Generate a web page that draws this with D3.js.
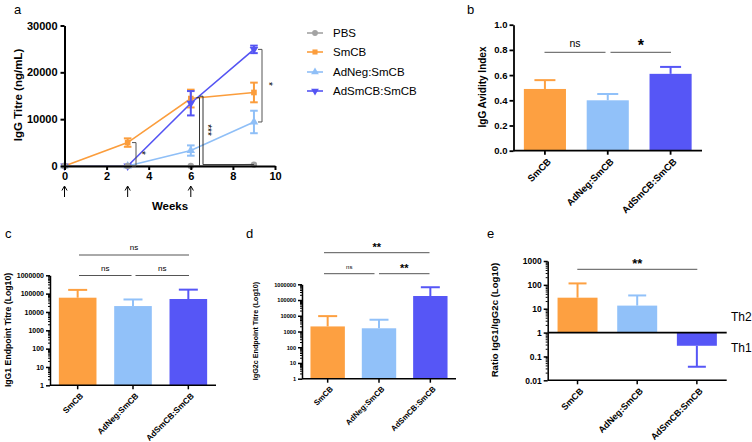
<!DOCTYPE html>
<html><head><meta charset="utf-8">
<script src="https://cdn.jsdelivr.net/npm/d3@7/dist/d3.min.js"></script>
<style>body{margin:0;background:#fff} svg text{font-family:"Liberation Sans",Arial,Helvetica,sans-serif}</style>
</head><body><svg id="chart" width="752" height="442"></svg>
<script>
// ---------- DATA ----------
const weeks = [0, 3, 6, 9];
const boostWeeks = [0, 3, 6];
const seriesNames = ["PBS", "SmCB", "AdNeg:SmCB", "AdSmCB:SmCB"];
const pbsMean = [0, 0, 0, 300];
const pbsErr = [0, 0, 0, 0];
const smcbMean = [0, 5000, 14400, 15700];
const smcbErr = [0, 900, 1900, 2100];
const adnegMean = [0, 0, 3300, 9400];
const adnegErr = [0, 0, 1100, 2400];
const adsmcbMean = [0, 0, 13400, 24900];
const adsmcbErr = [0, 0, 2600, 800];
const aYTicks = [0, 10000, 20000, 30000];
const aXTicks = [0, 2, 4, 6, 8, 10];

const groups = ["SmCB", "AdNeg:SmCB", "AdSmCB:SmCB"];
const avidity = [0.49, 0.40, 0.61];
const avidityUpper = [0.56, 0.45, 0.665];
const bYTicks = [0, 0.2, 0.4, 0.6, 0.8, 1.0];

const igg1 = [60000, 21000, 51000];
const igg1Upper = [160000, 48000, 165000];
const igg2c = [2100, 1600, 180000];
const igg2cUpper = [9500, 5600, 650000];
const logTicks6 = [1, 10, 100, 1000, 10000, 100000, 1000000];

const ratio = [29, 13.5, 0.28];
const ratioErrEnd = [115, 36, 0.037];
const eTicks = [0.01, 0.1, 1, 10, 100, 1000];

// ---------- STYLE ----------
const colors = {"PBS": "#a3a3a3", "SmCB": "#fb9d3c", "AdNeg:SmCB": "#8fbff7", "AdSmCB:SmCB": "#5454f3"};
const barColors = ["#fda041", "#91c1f9", "#5656f6"];
const svg = d3.select("#chart");

function styleAxis(g, sw, fs) {
  g.selectAll("path.domain").attr("stroke", "#000").attr("stroke-width", sw);
  g.selectAll(".tick line").attr("stroke", "#000").attr("stroke-width", sw);
  g.selectAll(".tick text").attr("font-size", fs).attr("font-weight", "bold").attr("fill", "#000")
    .attr("font-family", '"Liberation Sans",Arial,sans-serif');
}
function label(x, y, txt, fs, opts = {}) {
  const t = svg.append("text").attr("x", x).attr("y", y).text(txt)
    .attr("font-size", fs).attr("fill", opts.fill || "#000")
    .attr("font-weight", opts.bold ? "bold" : "normal")
    .attr("text-anchor", opts.anchor || "start")
    .attr("dominant-baseline", opts.baseline || "auto");
  if (opts.rotate) t.attr("transform", `rotate(${opts.rotate},${x},${y})`);
  return t;
}
function sig(x1, x2, y, txt, fs, bold, ty) {
  svg.append("line").attr("x1", x1).attr("x2", x2).attr("y1", y).attr("y2", y)
    .attr("stroke", "#555").attr("stroke-width", 1);
  label((x1 + x2) / 2, ty, txt, fs, {bold: bold, anchor: "middle"});
}
function minorLog(g, scale, x, lo, hi, len) {
  for (let d = lo; d < hi; d *= 10) {
    for (let k = 2; k < 10; k++) {
      const y = scale(d * k);
      g.append("line").attr("x1", x - len).attr("x2", x).attr("y1", y).attr("y2", y)
        .attr("stroke", "#000").attr("stroke-width", 1);
    }
  }
}
function rotLabels(xs, y0, fs) {
  groups.forEach((gname, i) => {
    svg.append("text").text(gname)
      .attr("transform", `translate(${xs(gname) + xs.bandwidth() / 2 + 2},${y0}) rotate(-45)`)
      .attr("text-anchor", "end").attr("dy", "0.7em")
      .attr("font-size", fs).attr("font-weight", "bold").attr("fill", "#000");
  });
}
function barPanel(cfg) {
  const xs = d3.scaleBand().domain(groups).range(cfg.xr).paddingInner(cfg.pad).paddingOuter(cfg.pad / 2);
  const ys = cfg.ys;
  const g = svg.append("g");
  const base = cfg.base;
  groups.forEach((gname, i) => {
    const v = cfg.vals[i], u = cfg.upper[i];
    const x0 = xs(gname), cx = x0 + xs.bandwidth() / 2;
    g.append("line").attr("x1", cx).attr("x2", cx).attr("y1", ys(v)).attr("y2", ys(u))
      .attr("stroke", barColors[i]).attr("stroke-width", 2);
    g.append("line").attr("x1", cx - cfg.cap / 2).attr("x2", cx + cfg.cap / 2).attr("y1", ys(u)).attr("y2", ys(u))
      .attr("stroke", barColors[i]).attr("stroke-width", 2);
    g.append("rect").attr("x", x0).attr("width", xs.bandwidth())
      .attr("y", Math.min(ys(v), ys(base))).attr("height", Math.abs(ys(base) - ys(v)))
      .attr("fill", barColors[i]);
  });
  const ya = svg.append("g").attr("transform", `translate(${cfg.xr[0]},0)`)
    .call(d3.axisLeft(ys).tickValues(cfg.yTicks).tickSize(4).tickSizeOuter(0).tickPadding(2).tickFormat(cfg.fmt));
  styleAxis(ya, cfg.sw, cfg.tfs);
  if (cfg.minor) minorLog(svg.append("g"), ys, cfg.xr[0], cfg.minor[0], cfg.minor[1], 2);
  const xa = svg.append("g").attr("transform", `translate(0,${cfg.xAxisY})`)
    .call(d3.axisBottom(xs).tickSize(4).tickSizeOuter(0).tickFormat(""));
  styleAxis(xa, cfg.sw, cfg.tfs);
  xa.select("path.domain").attr("d", `M${cfg.xr[0]},0H${cfg.xr[1]}`);
  rotLabels(xs, cfg.xAxisY + 7, cfg.lfs);
  return xs;
}

// ---------- PANEL A ----------
const ax = d3.scaleLinear().domain([0, 10]).range([64.5, 275]);
const ay = d3.scaleLinear().domain([0, 30000]).range([166, 25.5]);
const series = [
  {name: "SmCB", mean: smcbMean, err: smcbErr, sym: d3.symbolSquare, rot: 0},
  {name: "AdNeg:SmCB", mean: adnegMean, err: adnegErr, sym: d3.symbolTriangle, rot: 0},
  {name: "AdSmCB:SmCB", mean: adsmcbMean, err: adsmcbErr, sym: d3.symbolTriangle, rot: 180},
  {name: "PBS", mean: pbsMean, err: pbsErr, sym: d3.symbolCircle, rot: 0}
];
const gA = svg.append("g");
const line = d3.line().x(d => ax(d[0])).y(d => ay(d[1]));
series.forEach(s => {
  const c = colors[s.name];
  const pts = weeks.map((w, i) => [w, s.mean[i]]);
  gA.append("path").attr("d", line(pts)).attr("fill", "none").attr("stroke", c).attr("stroke-width", 1.6);
  weeks.forEach((w, i) => {
    if (s.err[i] > 0) {
      const x = ax(w), y1 = ay(s.mean[i] - s.err[i]), y2 = ay(s.mean[i] + s.err[i]);
      gA.append("line").attr("x1", x).attr("x2", x).attr("y1", y1).attr("y2", y2).attr("stroke", c).attr("stroke-width", 2);
      [y1, y2].forEach(yy => gA.append("line").attr("x1", x - 3.8).attr("x2", x + 3.8).attr("y1", yy).attr("y2", yy).attr("stroke", c).attr("stroke-width", 2));
    }
    gA.append("path").attr("d", d3.symbol().type(s.sym).size(32)())
      .attr("transform", `translate(${ax(w)},${ay(s.mean[i])}) rotate(${s.rot})`).attr("fill", c);
  });
});
const aYA = svg.append("g").attr("transform", "translate(64.5,0)")
  .call(d3.axisLeft(ay).tickValues(aYTicks).tickSize(4).tickSizeOuter(0).tickPadding(3).tickFormat(d3.format("d")));
styleAxis(aYA, 2, 11);
const aXA = svg.append("g").attr("transform", "translate(0,166)")
  .call(d3.axisBottom(ax).tickValues(aXTicks).tickSize(4).tickSizeOuter(0).tickPadding(2).tickFormat(d3.format("d")));
styleAxis(aXA, 2, 11);
// boost arrows (drawn as paths)
boostWeeks.forEach(w => {
  const x = ax(w);
  svg.append("line").attr("x1", x).attr("x2", x).attr("y1", 187).attr("y2", 197).attr("stroke", "#000").attr("stroke-width", 1);
  svg.append("path").attr("d", `M${x - 2.6},${190.5}L${x},${186}L${x + 2.6},${190.5}`).attr("fill", "none").attr("stroke", "#000").attr("stroke-width", 1);
});
label(170, 210, "Weeks", 11.5, {bold: true, anchor: "middle"});
label(22, 95, "IgG Titre (ng/mL)", 11.5, {bold: true, anchor: "middle", rotate: -90});
label(14, 14, "a", 13);
function bracket(x, y1, y2, tick) {
  svg.append("path").attr("d", `M${x - tick},${y1}H${x}V${y2}H${x - tick}`)
    .attr("fill", "none").attr("stroke", "#555").attr("stroke-width", 1);
}
bracket(136, ay(smcbMean[1]), ay(0), 4);
label(141, 153, "*", 10, {anchor: "middle", rotate: 90, baseline: "middle"});
svg.append("path").attr("d", `M196.5,${ay(14600)}H199.5V${ay(0)}`).attr("fill", "none").attr("stroke", "#333").attr("stroke-width", 1);
svg.append("path").attr("d", `M199.5,${ay(14900)}H203V${ay(300)}H${ax(9)}`).attr("fill", "none").attr("stroke", "#333").attr("stroke-width", 1);
label(207, 130, "***", 10, {anchor: "middle", rotate: 90, baseline: "middle"});
bracket(262, ay(adsmcbMean[3]), ay(adnegMean[3]), 4);
label(268, 84, "*", 10, {anchor: "middle", rotate: 90, baseline: "middle"});
seriesNames.forEach((n, i) => {
  const y = [33, 52, 72, 91][i];
  const s = series.find(d => d.name === n);
  svg.append("line").attr("x1", 307).attr("x2", 323).attr("y1", y).attr("y2", y).attr("stroke", colors[n]).attr("stroke-width", 1.6);
  svg.append("path").attr("d", d3.symbol().type(s.sym).size(26)()).attr("transform", `translate(315,${y}) rotate(${s.rot})`).attr("fill", colors[n]);
  label(333, y, n, 11.5, {baseline: "central"});
});

// ---------- PANEL B ----------
const by = d3.scaleLinear().domain([0, 1]).range([150.7, 24.7]);
barPanel({xr: [513.5, 702], pad: 0.33, ys: by, vals: avidity, upper: avidityUpper, base: 0,
  yTicks: bYTicks, fmt: d3.format(".1f"), sw: 1.8, tfs: 9.5, cap: 21, xAxisY: 150.7, lfs: 9.5});
sig(544.5, 605.5, 52.3, "ns", 10.5, false, 47);
sig(610.5, 671, 52.3, "*", 16, true, 51);
label(486, 87, "IgG Avidity Index", 10, {bold: true, anchor: "middle", rotate: -90});
label(467, 14, "b", 13);

// ---------- PANEL C ----------
const cy = d3.scaleLog().domain([1, 1e6]).range([385.3, 275.3]);
barPanel({xr: [50, 216], pad: 0.32, ys: cy, vals: igg1, upper: igg1Upper, base: 1,
  yTicks: logTicks6, fmt: d3.format("d"), sw: 1.5, tfs: 7, cap: 19, xAxisY: 385.3, lfs: 8.3, minor: [1, 1e6]});
sig(79, 189, 255, "ns", 8, false, 250);
sig(79, 131.5, 275.5, "ns", 8, false, 271);
sig(135.5, 189, 275.5, "ns", 8, false, 271);
label(11, 330, "IgG1 Endpoint Titre (Log10)", 8.7, {bold: true, anchor: "middle", rotate: -90});
label(5, 238, "c", 13);

// ---------- PANEL D ----------
const dy = d3.scaleLog().domain([1, 1e6]).range([378.7, 284.3]);
barPanel({xr: [302, 456], pad: 0.33, ys: dy, vals: igg2c, upper: igg2cUpper, base: 1,
  yTicks: logTicks6, fmt: d3.format("d"), sw: 1.5, tfs: 5.6, cap: 19, xAxisY: 378.7, lfs: 7.8, minor: [1, 1e6]});
sig(324, 429.5, 252.7, "**", 11, true, 251);
sig(324, 374.5, 273.7, "ns", 6, false, 269);
sig(379, 429.5, 273.7, "**", 11, true, 272);
label(258, 331, "IgG2c Endpoint Titre (Log10)", 7.2, {bold: true, anchor: "middle", rotate: -90});
label(246, 238, "d", 13);

// ---------- PANEL E ----------
const ey = d3.scaleLog().domain([0.01, 1000]).range([380.3, 261]);
barPanel({xr: [547.7, 726.7], pad: 0.33, ys: ey, vals: ratio, upper: ratioErrEnd, base: 1,
  yTicks: eTicks, fmt: d => d >= 1 ? d3.format("d")(d) : String(d), sw: 1.5, tfs: 8.5, cap: 18, xAxisY: 380.3, lfs: 9, minor: [0.01, 1000]});
svg.append("line").attr("x1", 547.7).attr("x2", 726.7).attr("y1", ey(1)).attr("y2", ey(1)).attr("stroke", "#000").attr("stroke-width", 1.6);
sig(577.3, 697.3, 269.3, "**", 13, true, 268);
label(731, 317, "Th2", 12, {baseline: "central"});
label(731, 348, "Th1", 12, {baseline: "central"});
label(498, 320, "Ratio IgG1/IgG2c (Log10)", 9.6, {bold: true, anchor: "middle", rotate: -90});
label(487, 238, "e", 13);
</script></body></html>
